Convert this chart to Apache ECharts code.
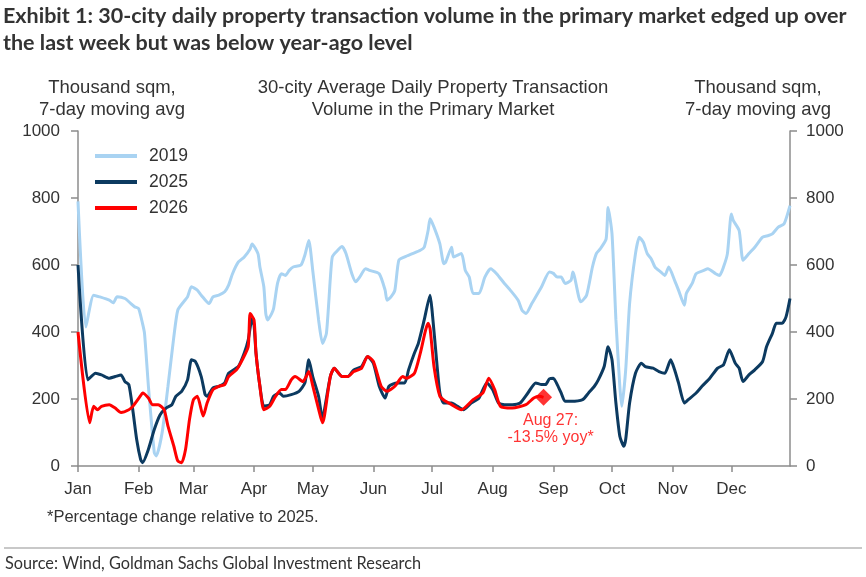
<!DOCTYPE html>
<html lang="en">
  <head>
    <meta charset="UTF-8" />
    <title>30-city daily property transaction volume</title>
    <script src="https://cdn.jsdelivr.net/npm/echarts@6.0.0/dist/echarts.min.js"></script>
    <style>
      html, body { margin: 0; padding: 0; background: #fff; }
    </style>
  </head>
  <body>
    <div id="main" style="width: 866px; height: 577px"></div>
    <script type="text/javascript">
      // Month ticks (day of year where each month starts)
      const monthNames = ["Jan", "Feb", "Mar", "Apr", "May", "Jun", "Jul", "Aug", "Sep", "Oct", "Nov", "Dec"];
      const monthStarts = [0, 31, 59, 90, 120, 151, 181, 212, 243, 273, 304, 334];
      const yTicks = [0, 200, 400, 600, 800, 1000];

      // [day of year, thousand sqm]
      const s2019 = [
        [0, 790], [4, 415], [8, 510], [11, 505], [16, 495], [18, 487], [20, 505], [24, 500], [27, 485],
        [29, 475], [31, 470], [33, 425], [34, 396], [36, 238], [39, 40], [40, 30], [43, 99], [46, 238],
        [49, 386], [51, 465], [54, 490], [56, 505], [58, 535], [61, 525], [63, 510], [67, 485], [69, 505],
        [72, 510], [75, 520], [77, 540], [79, 574], [82, 609], [85, 624], [88, 648], [89, 663], [92, 634],
        [93, 594], [95, 535], [96, 455], [97, 436], [99, 455], [100, 470], [102, 545], [104, 574], [106, 569],
        [108, 584], [110, 594], [114, 600], [116, 630], [118, 673], [120, 584], [123, 436], [125, 366],
        [127, 396], [129, 560], [130, 624], [132, 639], [135, 655], [137, 634], [140, 574], [142, 550],
        [144, 564], [147, 589], [149, 584], [154, 574], [157, 525], [158, 495], [160, 505], [162, 525],
        [164, 614], [167, 624], [171, 634], [175, 644], [177, 653], [179, 703], [180, 738], [182, 713],
        [185, 663], [187, 604], [188, 609], [191, 653], [192, 624], [196, 634], [198, 584], [200, 564],
        [202, 515], [205, 515], [208, 564], [211, 589], [214, 574], [218, 545], [221, 525], [225, 495],
        [227, 465], [229, 455], [232, 485], [237, 535], [241, 579], [243, 575], [245, 564], [247, 564],
        [249, 545], [252, 554], [253, 579], [256, 505], [257, 490], [260, 510], [263, 594], [265, 634],
        [267, 648], [270, 678], [271, 772], [273, 693], [275, 436], [277, 238], [278, 178], [280, 287],
        [282, 485], [285, 634], [287, 683], [289, 668], [291, 634], [293, 619], [295, 594], [298, 579],
        [300, 569], [302, 594], [305, 554], [307, 525], [310, 480], [311, 515], [314, 545], [316, 574],
        [320, 584], [322, 589], [326, 574], [328, 569], [330, 594], [332, 634], [334, 752], [335, 733],
        [338, 703], [340, 614], [343, 634], [346, 653], [350, 683], [353, 688], [355, 693], [358, 713],
        [361, 723], [364, 777]
      ];

      const s2025 = [
        [0, 600], [5, 257], [9, 277], [12, 272], [16, 262], [19, 267], [22, 272], [24, 252], [26, 243],
        [28, 168], [30, 79], [32, 20], [33, 10], [36, 50], [39, 109], [42, 153], [45, 173], [48, 183],
        [50, 208], [53, 223], [56, 257], [58, 317], [60, 312], [63, 267], [65, 213], [66, 208], [69, 233],
        [72, 238], [75, 248], [77, 277], [82, 297], [85, 337], [87, 376], [89, 440], [90, 420], [91, 337],
        [93, 238], [95, 178], [98, 183], [100, 208], [103, 218], [105, 208], [109, 213], [113, 223],
        [116, 248], [118, 317], [120, 267], [123, 208], [125, 139], [126, 168], [129, 267], [131, 292],
        [135, 267], [138, 267], [141, 287], [145, 297], [148, 327], [151, 307], [154, 238], [157, 203],
        [159, 238], [163, 248], [167, 248], [169, 287], [172, 337], [174, 366], [177, 436], [180, 510],
        [181, 465], [183, 337], [185, 218], [187, 188], [191, 188], [194, 178], [197, 168], [201, 188],
        [205, 203], [209, 248], [212, 228], [215, 188], [218, 183], [222, 183], [226, 188], [230, 218],
        [234, 248], [237, 243], [239, 243], [241, 260], [243, 262], [245, 243], [247, 218], [249, 193],
        [252, 193], [258, 198], [261, 218], [264, 238], [266, 257], [269, 297], [271, 356], [273, 317],
        [275, 188], [277, 89], [279, 59], [280, 79], [282, 188], [285, 277], [288, 307], [290, 297],
        [294, 292], [297, 282], [300, 277], [303, 317], [305, 287], [307, 248], [310, 188], [312, 198],
        [316, 218], [319, 238], [323, 262], [327, 292], [330, 302], [333, 347], [336, 307], [338, 292],
        [340, 252], [343, 272], [346, 287], [350, 312], [352, 356], [355, 396], [357, 426], [360, 426],
        [362, 446], [364, 500]
      ];

      const s2026 = [
        [0, 400], [6, 129], [8, 178], [10, 168], [12, 178], [16, 183], [19, 173], [22, 160], [26, 168],
        [28, 178], [32, 210], [33, 218], [36, 203], [38, 183], [41, 183], [44, 168], [46, 119], [49, 59],
        [51, 15], [53, 10], [55, 50], [57, 139], [59, 198], [61, 208], [64, 149], [66, 188], [69, 228],
        [72, 238], [75, 243], [77, 267], [81, 287], [84, 317], [87, 356], [88, 455], [90, 436], [91, 337],
        [93, 238], [95, 168], [98, 178], [101, 208], [104, 228], [106, 228], [109, 257], [111, 267],
        [115, 252], [118, 282], [120, 240], [123, 170], [125, 129], [126, 150], [129, 267], [131, 292],
        [135, 267], [138, 267], [141, 282], [145, 292], [148, 327], [151, 312], [155, 238], [158, 223],
        [162, 238], [166, 267], [168, 262], [172, 277], [175, 337], [179, 426], [180, 410], [182, 297],
        [185, 208], [188, 193], [191, 183], [196, 168], [202, 198], [207, 218], [210, 262], [213, 228],
        [216, 178], [222, 173], [229, 183], [233, 203], [236, 208], [238, 205]
      ];

      const latestPoint = [[238, 205]];
      const latestLabel = "Aug 27:\n-13.5% yoy*";

      // one category per day of the year
      const days = [];
      for (let d = 0; d < 365; d++) days.push(String(d));

      const isMonthStart = (idx) => monthStarts.indexOf(idx) >= 0;
      const textColor = "#333333";
      const axisColor = "#8c8c8c";
      const chartFont = "Liberation Sans, Arial, sans-serif";

      let myChart = echarts.init(document.getElementById("main"));

      const yAxisBase = {
        type: "value",
        min: yTicks[0],
        max: yTicks[yTicks.length - 1],
        interval: 200,
        splitLine: { show: false },
        axisLine: { show: true, lineStyle: { color: axisColor, width: 1.5 } },
        axisTick: { show: true, length: 7, lineStyle: { color: axisColor, width: 1.5 } },
        axisLabel: { color: textColor, fontSize: 17, fontFamily: chartFont, formatter: (v) => String(v) }
      };

      let options = {
        animation: false,
        backgroundColor: "#ffffff",
        grid: { left: 78, right: 76, top: 131, bottom: 111 },
        legend: {
          orient: "vertical",
          left: 90,
          top: 142,
          itemWidth: 42,
          itemHeight: 4,
          itemGap: 8,
          icon: "rect",
          data: ["2019", "2025", "2026"],
          textStyle: { color: textColor, fontSize: 17.5, fontFamily: chartFont, padding: [0, 0, 0, 7], lineHeight: 17 }
        },
        xAxis: {
          type: "category",
          data: days,
          boundaryGap: false,
          axisLine: { lineStyle: { color: axisColor, width: 1.5 } },
          axisTick: { interval: (idx) => isMonthStart(idx), length: 6, lineStyle: { color: axisColor, width: 1.5 } },
          axisLabel: {
            interval: (idx) => isMonthStart(idx),
            formatter: (val, idx) => monthNames[monthStarts.indexOf(Number(val))] || "",
            color: textColor,
            fontSize: 17,
            fontFamily: chartFont,
            margin: 15
          }
        },
        yAxis: [
          Object.assign({}, yAxisBase, { position: "left", axisLabel: Object.assign({}, yAxisBase.axisLabel, { margin: 18 }) }),
          Object.assign({}, yAxisBase, { position: "right", axisLabel: Object.assign({}, yAxisBase.axisLabel, { margin: 16 }) })
        ],
        series: [
          {
            name: "2019",
            type: "line",
            data: s2019,
            symbol: "none",
            smooth: 0.2,
            color: "#a9d3f2",
            lineStyle: { width: 3, color: "#a9d3f2" },
            z: 2
          },
          {
            name: "2025",
            type: "line",
            data: s2025,
            symbol: "none",
            smooth: 0.2,
            color: "#0c3a60",
            lineStyle: { width: 3, color: "#0c3a60" },
            z: 3
          },
          {
            name: "2026",
            type: "line",
            data: s2026,
            symbol: "none",
            smooth: 0.2,
            color: "#ff0000",
            lineStyle: { width: 3, color: "#ff0000" },
            z: 4
          },
          {
            name: "latest",
            type: "scatter",
            data: latestPoint,
            symbol: "diamond",
            symbolSize: 17,
            itemStyle: { color: "#ff0000" },
            z: 5,
            label: {
              show: true,
              position: "bottom",
              distance: 6,
              offset: [7, 0],
              formatter: latestLabel,
              color: "#ff0000",
              fontSize: 16,
              lineHeight: 17,
              fontFamily: chartFont,
              align: "center"
            }
          }
        ],
        graphic: [
          {
            type: "text",
            x: 3,
            y: 3,
            style: {
              text: "Exhibit 1: 30-city daily property transaction volume in the primary market edged up over\nthe last week but was below year-ago level",
              font: "bold 21.5px Lato, sans-serif",
              lineHeight: 27,
              fill: "#333333"
            }
          },
          {
            type: "text",
            x: 112,
            y: 77,
            style: { text: "Thousand sqm,\n7-day moving avg", font: "18.5px " + chartFont, lineHeight: 22, fill: textColor, align: "center" }
          },
          {
            type: "text",
            x: 433,
            y: 77,
            style: { text: "30-city Average Daily Property Transaction\nVolume in the Primary Market", font: "18.5px " + chartFont, lineHeight: 22, fill: textColor, align: "center" }
          },
          {
            type: "text",
            x: 758,
            y: 77,
            style: { text: "Thousand sqm,\n7-day moving avg", font: "18.5px " + chartFont, lineHeight: 22, fill: textColor, align: "center" }
          },
          {
            type: "text",
            x: 47,
            y: 509,
            style: { text: "*Percentage change relative to 2025.", font: "16.5px " + chartFont, fill: textColor }
          },
          {
            type: "line",
            shape: { x1: 4, y1: 548, x2: 862, y2: 548 },
            style: { stroke: "#c8c8c8", lineWidth: 2 }
          },
          {
            type: "text",
            x: 5,
            y: 556,
            style: { text: "Source: Wind, Goldman Sachs Global Investment Research", font: "16.3px Lato, sans-serif", fill: textColor }
          }
        ]
      };

      myChart.setOption(options);
    </script>
  </body>
</html>
